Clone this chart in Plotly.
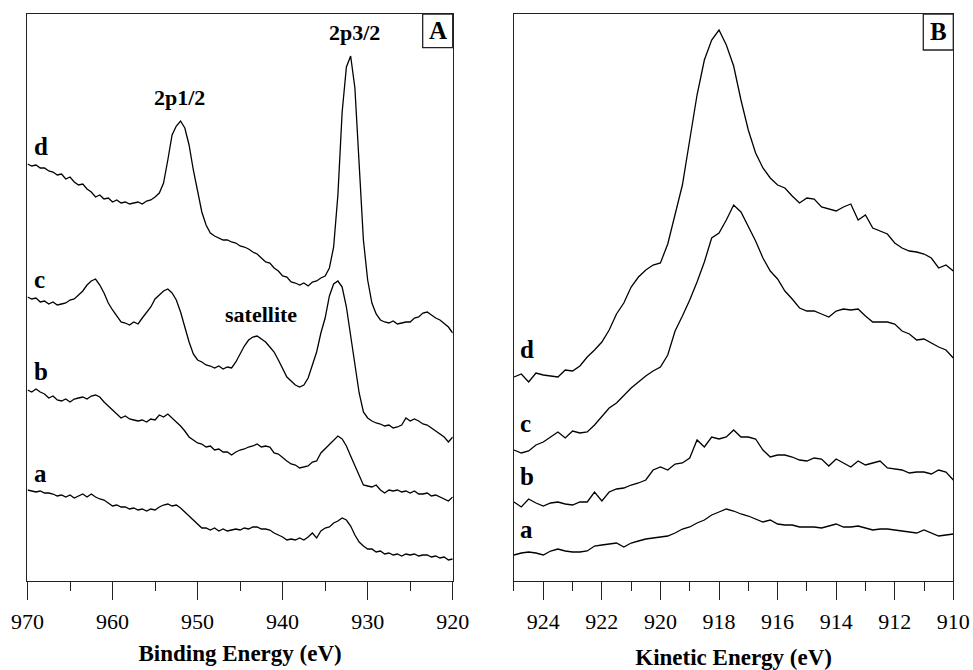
import numpy as np
import plotly.graph_objects as go

# ---- Panel A: Cu 2p XPS, binding energy grid (eV) ----
binding_energy = np.arange(970.0, 919.99, -0.5)

xps_d = [417, 415, 416, 413, 413, 410, 409, 406, 407, 402,
         404, 399, 396, 397, 392, 389, 384, 386, 382, 383,
         379, 381, 378, 379, 377, 378, 379, 377, 380, 381,
         384, 388, 398, 421, 446, 455, 460, 453, 436, 411,
         388, 369, 356, 348, 345, 343, 341, 341, 339, 338,
         335, 334, 332, 329, 327, 323, 319, 318, 313, 310,
         305, 304, 299, 298, 296, 298, 295, 299, 300, 303,
         305, 313, 334, 386, 469, 514, 525, 493, 416, 341,
         301, 278, 267, 261, 259, 258, 260, 257, 258, 259,
         259, 263, 264, 268, 269, 266, 263, 261, 257, 254,
         248]
xps_c = [284, 282, 283, 279, 280, 277, 279, 276, 277, 278,
         281, 282, 286, 290, 296, 300, 302, 296, 288, 278,
         271, 265, 259, 258, 256, 259, 257, 263, 269, 274,
         282, 286, 290, 292, 288, 281, 269, 254, 239, 227,
         221, 219, 216, 215, 213, 215, 212, 214, 213, 219,
         227, 235, 241, 244, 245, 242, 239, 234, 229, 221,
         213, 204, 200, 196, 194, 196, 203, 215, 229, 248,
         263, 285, 297, 300, 294, 274, 245, 218, 188, 169,
         163, 160, 158, 157, 155, 156, 153, 154, 156, 163,
         160, 162, 160, 157, 156, 153, 150, 147, 144, 139,
         144]
xps_b = [191, 189, 192, 189, 187, 183, 185, 181, 180, 182,
         179, 182, 183, 184, 182, 185, 186, 184, 179, 175,
         170, 167, 163, 165, 162, 161, 160, 161, 159, 162,
         161, 166, 164, 167, 163, 160, 155, 150, 144, 141,
         138, 137, 134, 135, 131, 132, 129, 129, 126, 129,
         131, 132, 134, 135, 137, 134, 135, 134, 128, 127,
         123, 120, 117, 116, 113, 114, 115, 119, 120, 128,
         132, 137, 141, 145, 142, 135, 125, 115, 105, 96,
         95, 94, 96, 91, 88, 91, 90, 91, 89, 90,
         88, 90, 87, 87, 88, 85, 86, 84, 82, 80,
         84]
xps_a = [91, 90, 89, 90, 88, 88, 87, 85, 86, 84,
         86, 83, 85, 87, 84, 87, 84, 82, 81, 78,
         75, 76, 74, 74, 72, 73, 71, 72, 70, 72,
         71, 74, 76, 77, 75, 76, 73, 69, 65, 60,
         56, 53, 53, 51, 53, 50, 52, 50, 51, 52,
         51, 53, 52, 54, 54, 52, 52, 51, 48, 46,
         44, 41, 42, 41, 43, 41, 44, 48, 43, 50,
         53, 54, 58, 60, 63, 61, 55, 46, 39, 35,
         32, 32, 29, 30, 27, 28, 26, 27, 25, 27,
         26, 27, 25, 26, 26, 24, 25, 23, 24, 21,
         22]

# ---- Panel B: Cu LMM Auger, kinetic energy grid (eV) ----
kinetic_energy = np.arange(925.0, 909.99, -0.25)

aes_d = [204, 207, 199, 208, 206, 205, 204, 211, 210, 215, 224, 231,
         239, 251, 267, 278, 294, 304, 311, 316, 318, 337, 367, 396,
         441, 486, 521, 541, 551, 536, 515, 481, 451, 428, 413, 403,
         396, 393, 385, 378, 383, 382, 374, 372, 370, 374, 377, 361,
         366, 353, 350, 347, 338, 333, 330, 329, 327, 323, 313, 316,
         310]
aes_c = [131, 128, 130, 136, 139, 144, 149, 143, 150, 148, 149, 156,
         165, 173, 178, 186, 193, 199, 205, 210, 214, 226, 250, 265,
         281, 299, 319, 343, 348, 361, 376, 369, 355, 340, 323, 310,
         302, 290, 282, 273, 270, 270, 267, 264, 270, 272, 271, 272,
         265, 259, 259, 259, 257, 250, 247, 241, 242, 238, 234, 231,
         223]
aes_b = [79, 74, 82, 78, 75, 78, 79, 77, 76, 79, 79, 89,
         80, 89, 92, 93, 96, 98, 101, 111, 114, 111, 117, 118,
         123, 141, 134, 144, 142, 144, 151, 144, 144, 142, 131, 124,
         126, 126, 124, 121, 120, 123, 122, 115, 122, 118, 114, 120,
         116, 118, 120, 113, 112, 111, 108, 109, 109, 107, 111, 109,
         101]
aes_a = [26, 28, 29, 28, 26, 30, 32, 30, 29, 29, 30, 35,
         36, 37, 38, 34, 38, 40, 42, 43, 44, 45, 48, 52,
         54, 58, 61, 66, 69, 72, 70, 67, 65, 62, 59, 61,
         57, 56, 56, 54, 54, 54, 53, 55, 57, 54, 54, 55,
         53, 51, 52, 52, 51, 50, 49, 48, 51, 48, 45, 46,
         47]

sample_labels = ["a", "b", "c", "d"]
xps_curves = [xps_a, xps_b, xps_c, xps_d]
aes_curves = [aes_a, aes_b, aes_c, aes_d]

# label anchor heights (intensity units) for the sample letters
xps_label_y = [108, 210, 302, 435]
aes_label_y = [52, 105, 158, 232]

SERIF = "Liberation Serif, Times New Roman, serif"
LINE = dict(color="black", width=1.3)
FRAME = "#222222"

fig = go.Figure()
for name, ys in zip(sample_labels, xps_curves):
    fig.add_trace(go.Scatter(x=binding_energy, y=ys, mode="lines", line=LINE,
                             name=name, xaxis="x", yaxis="y", showlegend=False))
for name, ys in zip(sample_labels, aes_curves):
    fig.add_trace(go.Scatter(x=kinetic_energy, y=ys, mode="lines", line=LINE,
                             name=name, xaxis="x2", yaxis="y2", showlegend=False))

y_range = [0, 567]
common_x = dict(showline=True, linecolor=FRAME, linewidth=1.3, mirror=True,
                showgrid=False, zeroline=False, ticks="outside", ticklen=18,
                tickwidth=1.3, tickcolor=FRAME, ticklabelstandoff=2,
                automargin=False,
                tickfont=dict(family=SERIF, size=22, color="black"))
common_y = dict(showline=True, linecolor=FRAME, linewidth=1.3, mirror=True,
                showgrid=False, zeroline=False, showticklabels=False, ticks="",
                automargin=False, range=y_range)

fig.update_layout(
    width=973, height=670,
    margin=dict(l=0, r=0, t=14, b=89),
    paper_bgcolor="white", plot_bgcolor="white",
    xaxis=dict(domain=[0.02826, 0.46526], range=[970, 920], tickmode="linear",
               tick0=920, dtick=10,
               minor=dict(dtick=5, ticks="outside", ticklen=9, tickwidth=1.3,
                          tickcolor=FRAME),
               title=dict(text="<b>Binding Energy (eV)</b>", standoff=12,
                          font=dict(family=SERIF, size=23, color="black")),
               anchor="y", **common_x),
    yaxis=dict(domain=[0, 1], anchor="x", **common_y),
    xaxis2=dict(domain=[0.52826, 0.97975], range=[925, 910], tickmode="linear",
                tick0=910, dtick=2,
                minor=dict(dtick=1, ticks="outside", ticklen=9, tickwidth=1.3,
                           tickcolor=FRAME),
                title=dict(text="<b>Kinetic Energy (eV)</b>", standoff=16,
                           font=dict(family=SERIF, size=23, color="black")),
                anchor="y2", **common_x),
    yaxis2=dict(domain=[0, 1], anchor="x2", **common_y),
)

bold = dict(family=SERIF, size=25, color="black")
annotations = []
for name, yv in zip(sample_labels, xps_label_y):
    annotations.append(dict(x=969.5, y=yv, xref="x", yref="y", text=f"<b>{name}</b>",
                            showarrow=False, xanchor="left", yanchor="middle", font=bold))
for name, yv in zip(sample_labels, aes_label_y):
    annotations.append(dict(x=924.86, y=yv, xref="x2", yref="y2", text=f"<b>{name}</b>",
                            showarrow=False, xanchor="left", yanchor="middle", font=bold))

peak_font = dict(family=SERIF, size=22, color="black")
annotations += [
    dict(x=952.15, y=484, xref="x", yref="y", text="<b>2p1/2</b>", showarrow=False,
         font=peak_font),
    dict(x=931.5, y=549, xref="x", yref="y", text="<b>2p3/2</b>", showarrow=False,
         font=peak_font),
    dict(x=942.5, y=267, xref="x", yref="y", text="<b>satellite</b>", showarrow=False,
         font=peak_font),
]

panel_font = dict(family=SERIF, size=25, color="black")
annotations += [
    dict(x=0.9647, y=0.9703, xref="x domain", yref="y domain", text="<b>A</b>",
         showarrow=False, font=panel_font, xanchor="center", yanchor="middle"),
    dict(x=0.9658, y=0.9683, xref="x2 domain", yref="y2 domain", text="<b>B</b>",
         showarrow=False, font=panel_font, xanchor="center", yanchor="middle"),
]
fig.update_layout(annotations=annotations)

fig.update_layout(shapes=[
    dict(type="rect", xref="x domain", yref="y domain", x0=0.9294, x1=1, y0=0.9406, y1=1,
         line=dict(color=FRAME, width=1.3), fillcolor="white", layer="above"),
    dict(type="rect", xref="x2 domain", yref="y2 domain", x0=0.9317, x1=1, y0=0.9365, y1=1,
         line=dict(color=FRAME, width=1.3), fillcolor="white", layer="below"),
])

fig.write_html("out.html")
